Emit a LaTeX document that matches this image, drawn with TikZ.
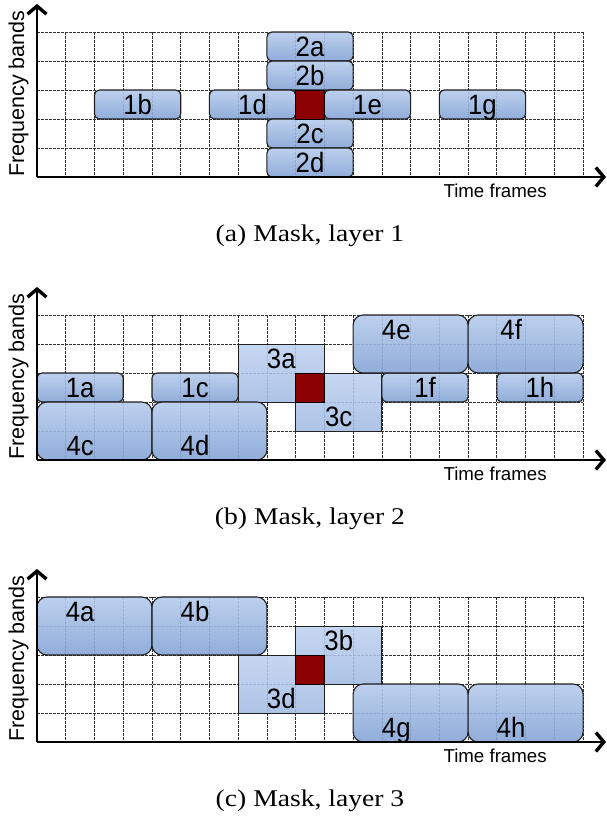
\documentclass[tikz,border=0pt]{standalone}
\usepackage{graphicx}
\usepackage{fontspec}
\setmainfont{Liberation Serif}
\newfontfamily\labelfont{Liberation Sans}
\usetikzlibrary{arrows.meta}

\definecolor{boxtop}{HTML}{B6CBEC}
\definecolor{boxbot}{HTML}{84A4D5}
\definecolor{flattop}{HTML}{BED1EF}
\definecolor{flatbot}{HTML}{A2BBE3}
\definecolor{centre}{HTML}{8B0000}
\definecolor{gridc}{HTML}{303030}
\definecolor{edgec}{HTML}{202020}

\tikzset{
  gridline/.style={gridc, line width=0.7pt, dash pattern=on 2.5pt off 1.5pt},
  axisline/.style={black, line width=2pt,
    -{Straight Barb[length=8pt,width=19pt,line width=3.4pt]}},
  blockbox/.style={draw=edgec, line width=1.1pt, rounded corners=5pt,
    top color=boxtop, bottom color=boxbot, fill opacity=0.9},
  widebox/.style={blockbox, rounded corners=10pt},
  flatbox/.style={draw=edgec, line width=0.9pt,
    top color=flattop, bottom color=flatbot, fill opacity=0.88},
  centrebox/.style={draw=black, line width=1pt, fill=centre},
  boxlabel/.style={font=\labelfont\fontsize{28}{28}\selectfont, inner sep=0pt, anchor=base},
  freqlabel/.style={font=\labelfont\fontsize{21.5}{21.5}\selectfont, inner sep=0pt},
  timelabel/.style={font=\labelfont\fontsize{18.7}{18.7}\selectfont, inner sep=0pt},
  capt/.style={font=\fontsize{24}{24}\selectfont, inner sep=0pt, anchor=base},
}

% a tile: style, corner, opposite corner, name, label column, label row
\newcommand\tile[6]{%
  \path[#1] (#2) rectangle (#3);
  \node[boxlabel] (lbl-#4) at (#5,#6+0.84) {\scalebox{0.92}[1]{#4}};}

% dashed grid of one panel
\newcommand\panelframe{%
  \foreach \c in {1,...,19} \draw[gridline] (\c,0) -- (\c,5);
  \foreach \r in {0,...,4} \draw[gridline] (0,\r) -- (19,\r);}
% axes and axis labels of one panel (argument: panel tag)
\newcommand\panelaxes[1]{%
  \coordinate (o-#1) at (0,5);
  \coordinate (ytip-#1) at (0,-0.97);
  \coordinate (xtip-#1) at (19.8,5);
  \draw[axisline] (o-#1) -- (ytip-#1);
  \draw[axisline] (o-#1) -- (xtip-#1);
  \node[freqlabel, rotate=90, anchor=base west] (freq-#1) at (-0.45,5) {Frequency bands};
  \node[timelabel, anchor=base] (time-#1) at (15.94,5.72) {Time frames};}

\begin{document}
\begin{tikzpicture}[x=1pt, y=-1pt]
\useasboundingbox (0,0) rectangle (606,817);

% ---------- layer 1 ----------
\begin{scope}[shift={(37pt,-32pt)}, x=28.74pt, y=-29pt]
  \panelframe
  \tile{blockbox}{8,0}{11,1}{2a}{9.5}{0}
  \tile{blockbox}{8,1}{11,2}{2b}{9.5}{1}
  \tile{blockbox}{2,2}{5,3}{1b}{3.5}{2}
  \tile{blockbox}{6,2}{9,3}{1d}{7.5}{2}
  \tile{blockbox}{10,2}{13,3}{1e}{11.5}{2}
  \tile{blockbox}{14,2}{17,3}{1g}{15.5}{2}
  \tile{blockbox}{8,3}{11,4}{2c}{9.5}{3}
  \tile{blockbox}{8,4}{11,5}{2d}{9.5}{4}
  \path[centrebox] (9,2) rectangle (10,3);
  \panelaxes{a}
\end{scope}
\node[capt] (cap-a) at (310,241) {\scalebox{1.15}[1]{(a) Mask, layer 1}};

% ---------- layer 2 ----------
\begin{scope}[shift={(37pt,-315pt)}, x=28.74pt, y=-29pt]
  \panelframe
  \tile{flatbox}{7,1}{10,3}{3a}{8.5}{1}
  \tile{flatbox}{9,2}{12,4}{3c}{10.5}{3}
  \tile{blockbox}{0,2}{3,3}{1a}{1.5}{2}
  \tile{blockbox}{4,2}{7,3}{1c}{5.5}{2}
  \tile{blockbox}{12,2}{15,3}{1f}{13.5}{2}
  \tile{blockbox}{16,2}{19,3}{1h}{17.5}{2}
  \tile{widebox}{0,3}{4,5}{4c}{1.5}{4}
  \tile{widebox}{4,3}{8,5}{4d}{5.5}{4}
  \tile{widebox}{11,0}{15,2}{4e}{12.5}{0}
  \tile{widebox}{15,0}{19,2}{4f}{16.5}{0}
  \path[centrebox] (9,2) rectangle (10,3);
  \panelaxes{b}
\end{scope}
\node[capt] (cap-b) at (310,524) {\scalebox{1.15}[1]{(b) Mask, layer 2}};

% ---------- layer 3 ----------
\begin{scope}[shift={(37pt,-597pt)}, x=28.74pt, y=-29pt]
  \panelframe
  \tile{flatbox}{9,1}{12,3}{3b}{10.5}{1}
  \tile{flatbox}{7,2}{10,4}{3d}{8.5}{3}
  \tile{widebox}{0,0}{4,2}{4a}{1.5}{0}
  \tile{widebox}{4,0}{8,2}{4b}{5.5}{0}
  \tile{widebox}{11,3}{15,5}{4g}{12.5}{4}
  \tile{widebox}{15,3}{19,5}{4h}{16.5}{4}
  \path[centrebox] (9,2) rectangle (10,3);
  \panelaxes{c}
\end{scope}
\node[capt] (cap-c) at (310,806) {\scalebox{1.15}[1]{(c) Mask, layer 3}};
\end{tikzpicture}
\end{document}
